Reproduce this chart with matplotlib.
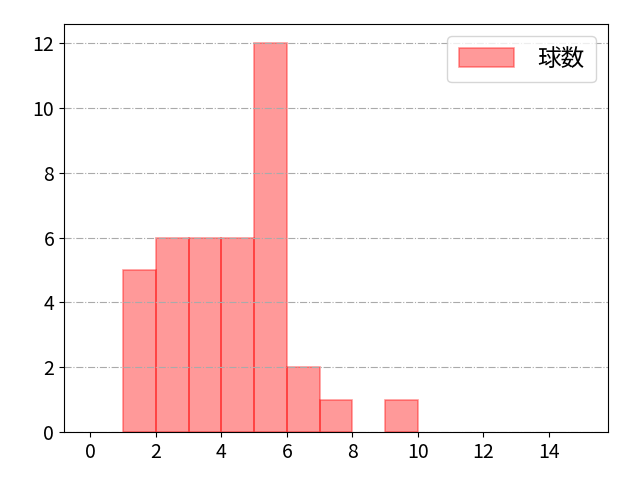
import numpy as np
import matplotlib
matplotlib.use("Agg")
import matplotlib.pyplot as plt

plt.rcParams['font.family'] = ['Noto Sans CJK JP', 'DejaVu Sans']

# ビンの左端と度数
bin_left = [0, 1, 2, 3, 4, 5, 6, 7, 8, 9, 10, 11, 12, 13, 14]
counts = [0, 5, 6, 6, 6, 12, 2, 1, 0, 1, 0, 0, 0, 0, 0]
label = "球数"

# 度数0のビンは描かない
x = [b for b, c in zip(bin_left, counts) if c > 0]
h = [c for c in counts if c > 0]

fig, ax = plt.subplots(figsize=(6.4, 4.8), dpi=100)
ax.bar(x, h, width=1, align='edge', color='red', alpha=0.4,
       edgecolor='red', linewidth=1.2, label=label)

ax.set_xlim(-0.8, 15.8)
ax.set_ylim(0, 12.6)
ax.set_xticks(np.arange(0, 15, 2))
ax.set_yticks(np.arange(0, 13, 2))
ax.tick_params(labelsize=14)
ax.grid(axis='y', linestyle='-.', color='#aaaaaa', linewidth=0.8)
ax.legend(fontsize=17, loc='upper right', handlelength=2.3,
          handleheight=0.9, handletextpad=1.0, borderaxespad=0.5,
          borderpad=0.5)

fig.subplots_adjust(left=0.1, right=0.95, top=0.95, bottom=0.1)
fig.savefig("out.png")
